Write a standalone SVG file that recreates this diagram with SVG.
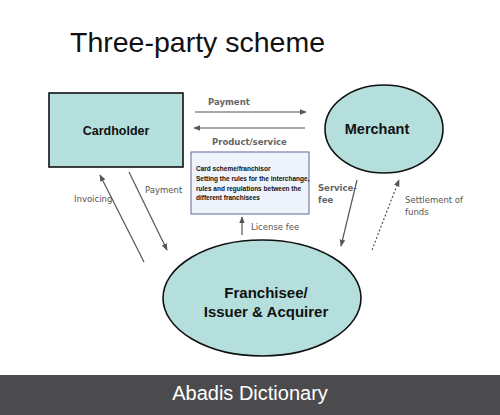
<svg xmlns="http://www.w3.org/2000/svg" width="500" height="415" viewBox="0 0 500 415">
<defs>
<marker id="ah" viewBox="0 0 10 10" refX="9" refY="5" markerWidth="7" markerHeight="7" orient="auto-start-reverse" markerUnits="userSpaceOnUse">
<path d="M0,1 L10,5 L0,9 z" fill="#555"/>
</marker>
<style>
.node{fill:#b4dfdc;stroke:#111;stroke-width:1.6}
.lbl{font-family:"Liberation Sans",Arial,sans-serif;font-weight:bold;fill:#111}
.gl{font-family:"DejaVu Sans",Verdana,sans-serif;font-size:8.5px;fill:#666;font-weight:bold}
.gn{font-family:"DejaVu Sans",Verdana,sans-serif;font-size:8.5px;fill:#555}
.ln{stroke:#555;stroke-width:1.2;fill:none;marker-end:url(#ah)}
.sm{font-family:"Liberation Sans",Arial,sans-serif;font-size:6.5px;font-weight:bold;fill:#111}
</style>
</defs>
<rect width="500" height="415" fill="#fff"/>
<text x="70" y="52" font-family="Liberation Sans,Arial,sans-serif" font-size="28.5" fill="#111">Three-party scheme</text>

<g id="cardholder">
<rect class="node" x="49" y="93" width="134" height="74"/>
<text class="lbl" x="116" y="135" font-size="12.5" text-anchor="middle">Cardholder</text>
</g>
<g id="merchant">
<ellipse class="node" cx="384" cy="129" rx="59" ry="44"/>
<text class="lbl" x="377" y="134" font-size="14.5" text-anchor="middle">Merchant</text>
</g>
<g id="scheme">
<rect x="191" y="152" width="118" height="62" fill="#eef3fc" stroke="#5a6896" stroke-width="1"/>
<text class="sm" x="196" y="171">Card scheme/franchisor</text>
<text class="sm" x="196" y="181">Setting the rules for the interchange,</text>
<text class="sm" x="196" y="191">rules and regulations between the</text>
<text class="sm" x="196" y="200">different franchisees</text>
</g>
<g id="franchisee">
<ellipse class="node" cx="262" cy="298" rx="99" ry="58"/>
<text class="lbl" x="266" y="298" font-size="15" text-anchor="middle">Franchisee/</text>
<text class="lbl" x="266" y="317" font-size="15" text-anchor="middle">Issuer &amp; Acquirer</text>
</g>

<g id="connectors">
<line class="ln" x1="195" y1="112" x2="306" y2="112"/>
<line class="ln" x1="305" y1="128" x2="194" y2="128"/>
<line class="ln" x1="242" y1="235" x2="242" y2="217"/>
<line class="ln" x1="144" y1="262" x2="100" y2="175"/>
<line class="ln" x1="129" y1="172" x2="167" y2="250" stroke-width="0.8"/>
<line class="ln" x1="357" y1="180" x2="341" y2="246"/>
<line class="ln" x1="372" y1="250" x2="399" y2="180" stroke-dasharray="2,2"/>
</g>

<g id="labels">
<text class="gl" x="208" y="105">Payment</text>
<text class="gl" x="212" y="145">Product/service</text>
<text class="gn" x="251" y="230">License fee</text>
<text class="gn" x="74" y="202">Invoicing</text>
<text class="gn" x="145" y="193">Payment</text>
<text class="gl" x="318" y="191">Service-</text>
<text class="gl" x="318" y="203">fee</text>
<text class="gn" x="405" y="203">Settlement of</text>
<text class="gn" x="405" y="215">funds</text>
</g>

<rect x="0" y="375" width="500" height="40" fill="#4b4b4d"/>
<text x="250" y="400" font-family="Liberation Sans,Arial,sans-serif" font-size="20" fill="#fff" text-anchor="middle">Abadis Dictionary</text>
</svg>
